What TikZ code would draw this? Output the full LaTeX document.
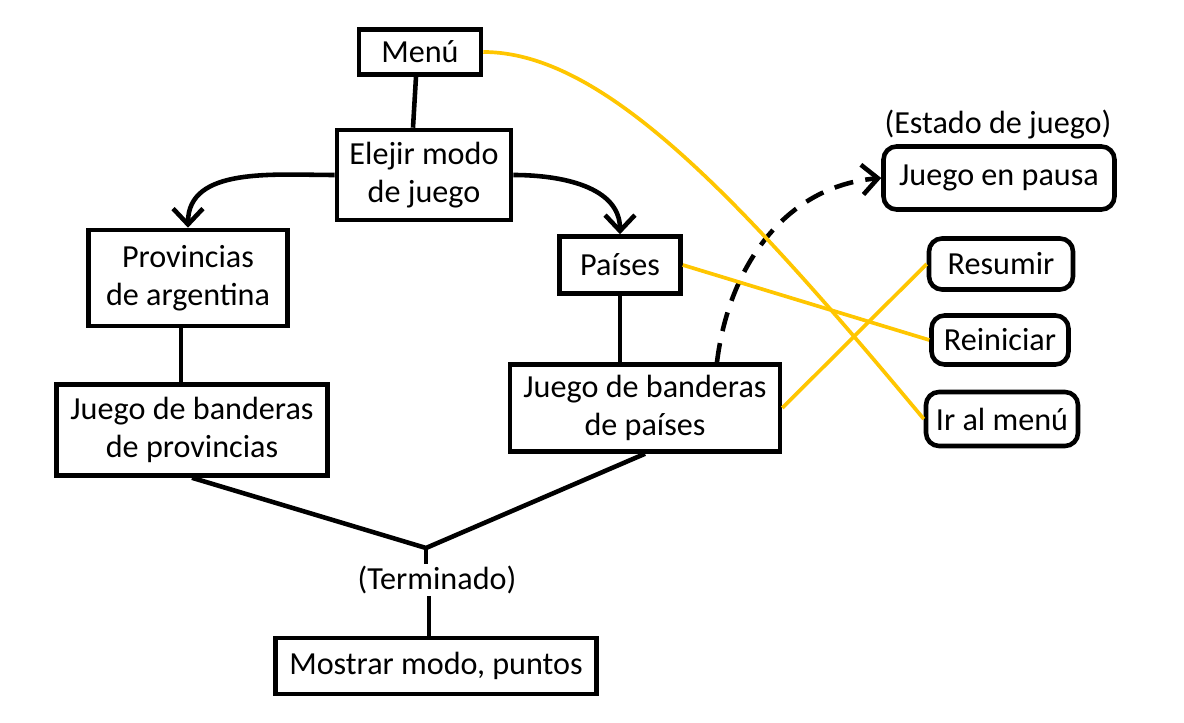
\documentclass[tikz,border=0pt]{standalone}
\usepackage{fontspec}
\setmainfont{Carlito}
\usetikzlibrary{arrows.meta}
\definecolor{amarillo}{RGB}{255,198,0}

\begin{document}
\begin{tikzpicture}[x=0.02cm, y=0.02cm,
  caja/.style={draw, line width=2.6pt, align=center, inner sep=0pt,
    font=\fontsize{18.3}{21.8}\selectfont},
  redonda/.style={caja, rounded corners=0.26cm},
  texto/.style={inner sep=1pt, font=\fontsize{18.3}{21.8}\selectfont},
  linea/.style={line width=2.6pt},
  flecha/.style={linea, -{Straight Barb[length=9pt,width=17pt]}},
  trazos/.style={dash pattern=on 11pt off 7pt},
  amarilla/.style={draw=amarillo, line width=2.1pt}]
\useasboundingbox (0,0) rectangle (1184,723);

\node[caja, minimum width=2.44cm, minimum height=0.9cm] (menu) at (420,671) {Menú};
\node[caja, minimum width=3.48cm, minimum height=1.8cm] (modo) at (424,548) {Elejir modo\\de juego};
\node[caja, minimum width=3.98cm, minimum height=1.92cm] (prov) at (188,445) {Provincias\\de argentina};
\node[caja, minimum width=2.42cm, minimum height=1.14cm] (paises) at (620,458) {Países};
\node[caja, minimum width=5.42cm, minimum height=1.82cm] (jprov) at (192,293) {Juego de banderas\\de provincias};
\node[caja, minimum width=5.4cm, minimum height=1.74cm] (jpais) at (645,315) {Juego de banderas\\de países};
\node[texto] (estado) at (998,598) {(Estado de juego)};
\node[redonda, minimum width=4.62cm, minimum height=1.26cm] (pausa) at (999,545) {Juego en pausa};
\node[redonda, minimum width=2.88cm, minimum height=1.02cm] (resumir) at (1001,459) {Resumir};
\node[redonda, minimum width=2.74cm, minimum height=0.98cm] (reiniciar) at (1000,383) {Reiniciar};
\node[redonda, minimum width=3.04cm, minimum height=1.08cm] (irmenu) at (1002,304) {Ir al menú};
\node[texto] (term) at (437,143) {(Terminado)};
\node[caja, minimum width=6.42cm, minimum height=1.12cm] (mostrar) at (436,57) {Mostrar modo, puntos};
\coordinate (fin) at (426,175);

\draw[linea] ([xshift=-0.08cm]menu.south) -- ([xshift=-0.22cm]modo.north);
\draw[flecha] (modo.west) to[out=180,in=90] (prov.north);
\draw[flecha] (modo.east) to[out=0,in=90] (paises.north);
\draw[linea] ([xshift=-0.14cm]prov.south) -- ([xshift=-0.14cm]prov.south |- jprov.north);
\draw[linea] (paises.south) -- (paises.south |- jpais.north);
\draw[linea] (jprov.south) -- (fin) -- (jpais.south);
\draw[linea] (fin) -- (fin |- term.north);
\draw[linea] ([xshift=-0.16cm]term.south) -- ([xshift=-0.16cm]term.south |- mostrar.north);
\draw[flecha, trazos] ([xshift=1.44cm]jpais.north) to[out=83,in=185] (pausa.west);

\draw[amarilla] (menu.east) .. controls +(120,0) and +(-185,222) .. (irmenu.west);
\draw[amarilla] (paises.east) -- (reiniciar.west);
\draw[amarilla] (jpais.east) -- (resumir.west);

\end{tikzpicture}
\end{document}
